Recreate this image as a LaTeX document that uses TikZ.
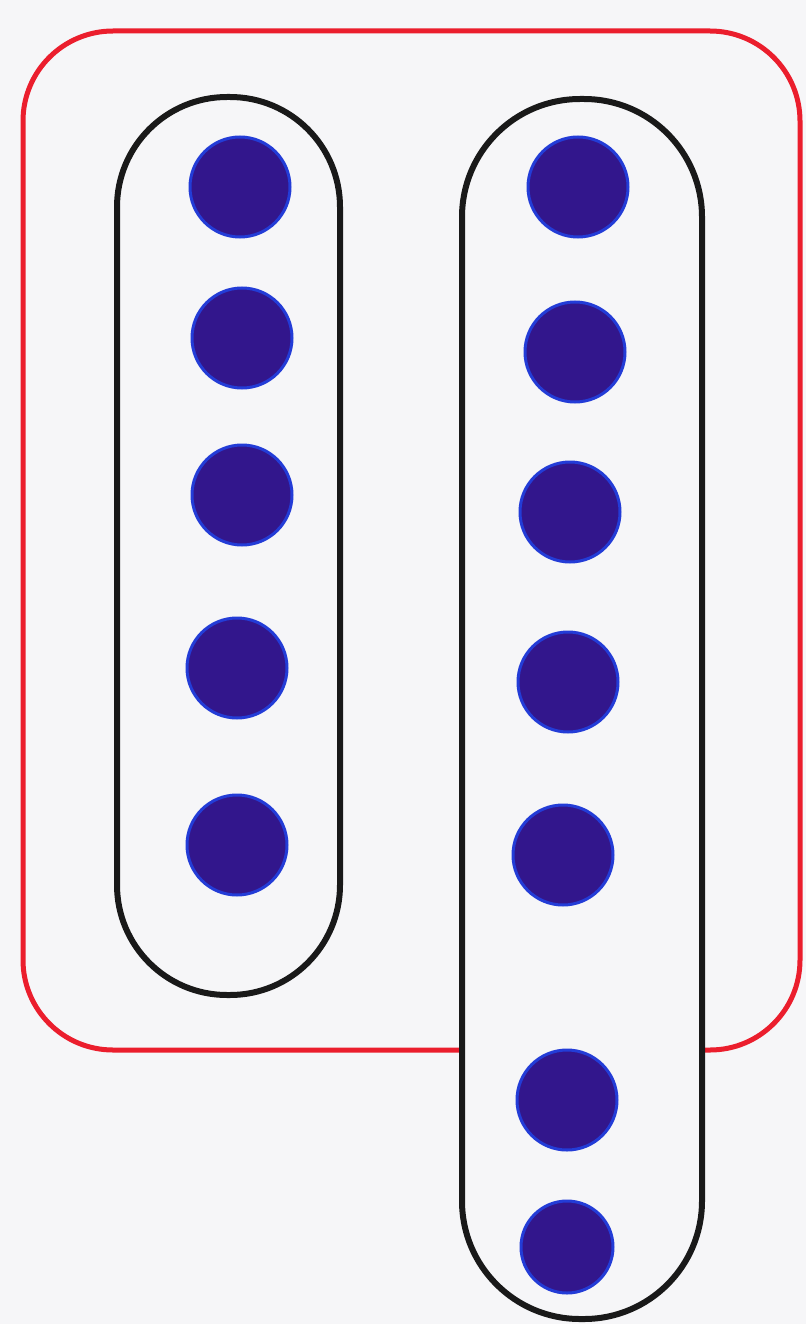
\documentclass[tikz,border=0pt]{standalone}
\definecolor{bg}{RGB}{246,246,248}
\definecolor{redline}{RGB}{235,30,45}
\definecolor{dotfill}{RGB}{50,22,140}
\definecolor{dotrim}{RGB}{35,60,215}
\tikzset{
  dotnode/.style={circle,fill=dotfill,draw=dotrim,line width=3pt,minimum size=#1,inner sep=0pt},
  dotnode/.default=100pt,
  capsule/.style={draw=black!90,line width=6pt,fill=bg,rectangle,inner sep=0pt}
}
\begin{document}
\begin{tikzpicture}[x=1pt,y=-1pt]
\fill[bg] (0,0) rectangle (806,1324);
\useasboundingbox (0,0) rectangle (806,1324);
% red outer box
\draw[redline,line width=5pt,rounded corners=90pt] (23,31) rectangle (800,1050);
% left capsule
\node[capsule,rounded corners=110pt,minimum width=223pt,minimum height=898pt] (lcap) at (228.5,546) {};
% right capsule
\node[capsule,rounded corners=118pt,minimum width=240pt,minimum height=1220pt] (rcap) at (582,709) {};
% dots left
\node[dotnode] (l1) at (240,187) {};
\node[dotnode] (l2) at (242,338) {};
\node[dotnode] (l3) at (242,495) {};
\node[dotnode] (l4) at (237,668) {};
\node[dotnode] (l5) at (237,845) {};
% dots right
\node[dotnode] (r1) at (578,187) {};
\node[dotnode] (r2) at (575,352) {};
\node[dotnode] (r3) at (570,512) {};
\node[dotnode] (r4) at (568,682) {};
\node[dotnode] (r5) at (563,855) {};
\node[dotnode] (r6) at (567,1100) {};
\node[dotnode=92pt] (r7) at (567,1247) {};
\end{tikzpicture}
\end{document}
